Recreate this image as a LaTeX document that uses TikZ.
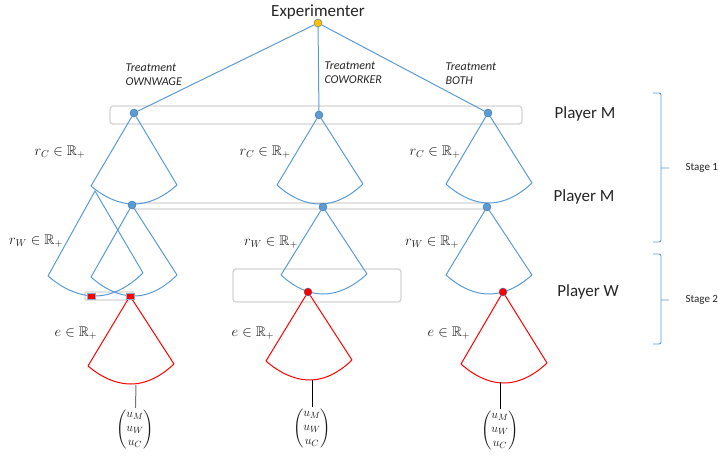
\documentclass[tikz,border=0pt]{standalone}
\usepackage{amsmath,amssymb}
\usepackage{fontspec}
\setmainfont{Carlito}
\usetikzlibrary{backgrounds}
\definecolor{pblue}{HTML}{5B9BD5}
\definecolor{pdblue}{HTML}{41719C}
\definecolor{pgold}{HTML}{FFC000}
\definecolor{pgray}{HTML}{D4D4D4}
\colorlet{tcol}{black!85}
\tikzstyle{vertex}=[circle, draw=pdblue, fill=pblue, inner sep=0pt, minimum size=8pt]
\tikzstyle{root}=[vertex, fill=pgold]
\tikzstyle{wvertex}=[vertex, fill=red]
\tikzstyle{wsquare}=[rectangle, draw=pdblue!60, fill=red, inner sep=0pt, minimum width=8pt, minimum height=6pt]
\tikzstyle{edge}=[line width=1pt,pblue]
\tikzstyle{effort}=[line width=1pt,red]
\tikzstyle{infoset}=[draw=pgray, line width=1.4pt, rounded corners=3pt]
\tikzstyle{player}=[font=\fontsize{17}{20}\selectfont, text=tcol]
\tikzstyle{stagelbl}=[font=\fontsize{11}{13}\selectfont, text=tcol, anchor=west]
\tikzstyle{treat}=[font=\fontsize{12}{14}\selectfont\itshape, align=left, text=tcol, anchor=west]
\tikzstyle{choice}=[font=\fontsize{14}{16}\selectfont, text=black!90]
\tikzstyle{payoff}=[font=\fontsize{13}{14}\selectfont, text=black!90, inner sep=0pt]

\begin{document}
\begin{tikzpicture}[x=1pt, y=-1pt]
			\useasboundingbox (0,0) rectangle (718,456);
			\node[root] (exp) at (318,23) {};
			\node[vertex] (m1) at (134,113) {};
			\node[vertex] (m2) at (319,115) {};
			\node[vertex] (m3) at (488,113) {};
			\node[vertex] (c1) at (132,205) {};
			\node[vertex] (c2) at (323,207) {};
			\node[vertex] (c3) at (487,207) {};
			\node[wsquare] (w0) at (91,296) {};
			\node[wsquare] (w1) at (130,296) {};
			\node[wvertex] (w2) at (308,292) {};
			\node[wvertex] (w3) at (503,292) {};

			% Fan corners
			\coordinate (m1L) at (91,186);  \coordinate (m1R) at (177,185); \coordinate (m1B) at (134,204);
			\coordinate (m2L) at (277,185); \coordinate (m2R) at (363,184); \coordinate (m2B) at (320,204);
			\coordinate (m3L) at (446,184); \coordinate (m3R) at (532,183); \coordinate (m3B) at (489,203);
			\coordinate (c0)  at (95,191);
			\coordinate (c0L) at (48,276);  \coordinate (c0R) at (143,273); \coordinate (c0B) at (95,296);
			\coordinate (c1L) at (91,277);  \coordinate (c1R) at (177,275); \coordinate (c1B) at (134,296);
			\coordinate (c2L) at (281,275); \coordinate (c2R) at (367,274); \coordinate (c2B) at (323,294);
			\coordinate (c3L) at (446,275); \coordinate (c3R) at (532,275); \coordinate (c3B) at (489,294);
			\coordinate (w1L) at (88,366);  \coordinate (w1R) at (174,364); \coordinate (w1B) at (131,384);
			\coordinate (w2L) at (266,361); \coordinate (w2R) at (352,360); \coordinate (w2B) at (310,380);
			\coordinate (w3L) at (461,364); \coordinate (w3R) at (547,363); \coordinate (w3B) at (504,383);
			\coordinate (p1) at (136,385);
			\coordinate (p2) at (312,380);
			\coordinate (p3) at (500,382);

			\begin{scope}[on background layer]
				% Information sets
				\draw[infoset] (110,106) rectangle (522,124);
				\draw[infoset, rounded corners=2pt] (132,203) rectangle (488,209);
				\draw[infoset] (233,269) rectangle (401,302);
				\draw[infoset, line width=1.2pt, rounded corners=1pt] (85,292) rectangle (134,300);
				% Treatments
				\draw[edge] (exp)--(m1) (exp)--(m2) (exp)--(m3);
				% Stage 1
				\draw[edge] (m1L)--(m1)--(m1R) (m1L) parabola bend (m1B) (m1R);
				\draw[edge] (m2L)--(m2)--(m2R) (m2L) parabola bend (m2B) (m2R);
				\draw[edge] (m3L)--(m3)--(m3R) (m3L) parabola bend (m3B) (m3R);
				\draw[edge] (c0L)--(c0)--(c0R) (c0L) parabola bend (c0B) (c0R);
				\draw[edge] (c1L)--(c1)--(c1R) (c1L) parabola bend (c1B) (c1R);
				\draw[edge] (c2L)--(c2)--(c2R) (c2L) parabola bend (c2B) (c2R);
				\draw[edge] (c3L)--(c3)--(c3R) (c3L) parabola bend (c3B) (c3R);
				% Stage 2
				\draw[effort] (w1L)--(w1)--(w1R) (w1L) parabola bend (w1B) (w1R);
				\draw[effort] (w2L)--(w2)--(w2R) (w2L) parabola bend (w2B) (w2R);
				\draw[effort] (w3L)--(w3)--(w3R) (w3L) parabola bend (w3B) (w3R);
			\end{scope}

			% Payoffs
			\node[payoff] (u1) at (135,429) {$\begin{pmatrix}u_M\\u_W\\u_C\end{pmatrix}$};
			\node[payoff] (u2) at (312,428) {$\begin{pmatrix}u_M\\u_W\\u_C\end{pmatrix}$};
			\node[payoff] (u3) at (500,430) {$\begin{pmatrix}u_M\\u_W\\u_C\end{pmatrix}$};
			\draw[line width=1pt, black!55] (p1)--(u1);
			\draw[line width=1pt, black] (p2)--(u2) (p3)--(u3);

			% Labels
			\node[player] (explbl) at (318,12) {Experimenter};
			\node[treat] (t1) at (122,75) {Treatment\\OWNWAGE};
			\node[treat] (t2) at (321,73) {Treatment\\COWORKER};
			\node[treat] (t3) at (442,74) {Treatment\\BOTH};
			\node[choice] (rc1) at (60,152) {$r_C \in \mathbb{R}_+$};
			\node[choice] (rc2) at (265,152) {$r_C \in \mathbb{R}_+$};
			\node[choice] (rc3) at (435,152) {$r_C \in \mathbb{R}_+$};
			\node[choice] (rw1) at (36,241) {$r_W \in \mathbb{R}_+$};
			\node[choice] (rw2) at (271,242) {$r_W \in \mathbb{R}_+$};
			\node[choice] (rw3) at (432,242) {$r_W \in \mathbb{R}_+$};
			\node[choice] (e1) at (76,333) {$e \in \mathbb{R}_+$};
			\node[choice] (e2) at (253,333) {$e \in \mathbb{R}_+$};
			\node[choice] (e3) at (449,333) {$e \in \mathbb{R}_+$};
			\node[player] (pm1) at (585,114) {Player M};
			\node[player] (pm2) at (584,197) {Player M};
			\node[player] (pw) at (588,292) {Player W};

			% Stages
			\draw[edge, line width=0.9pt, rounded corners=2pt] (653,93)--(661,93)--(661,242)--(653,242) (661,168)--(669,168);
			\draw[edge, line width=0.9pt, rounded corners=2pt] (653,254)--(661,254)--(661,344)--(653,344) (661,300)--(669,300);
			\node[stagelbl] (s1) at (682,168) {Stage 1};
			\node[stagelbl] (s2) at (682,300) {Stage 2};
		\end{tikzpicture}
\end{document}
